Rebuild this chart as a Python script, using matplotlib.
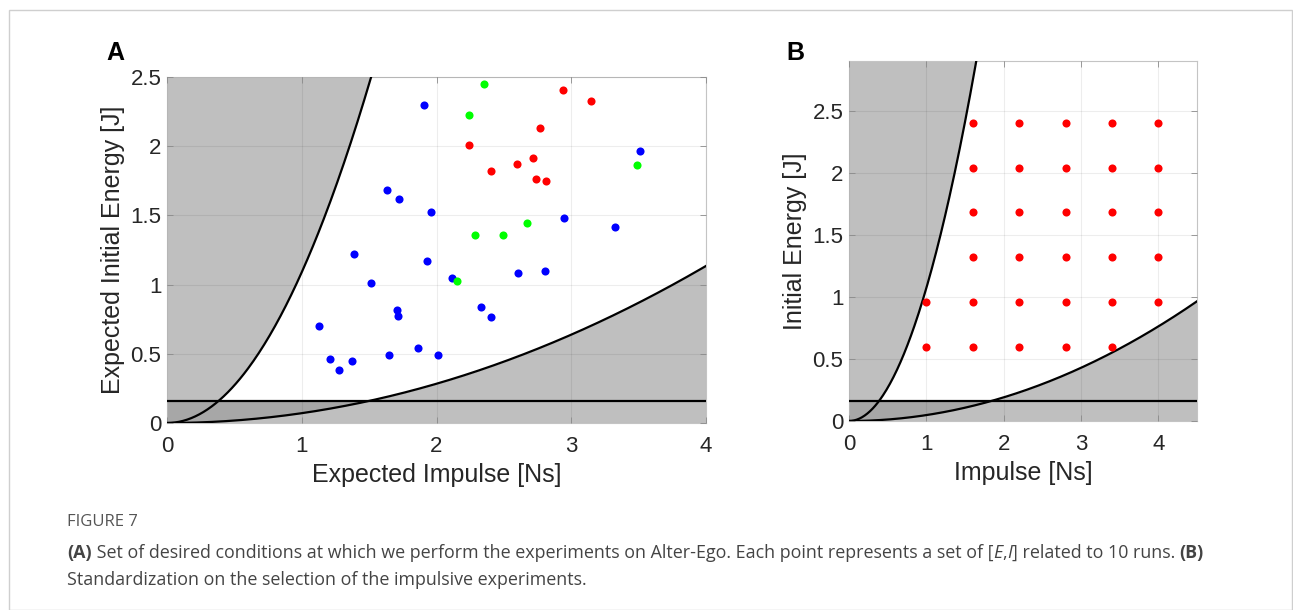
import numpy as np
import matplotlib
matplotlib.use("Agg")
import matplotlib.pyplot as plt
from matplotlib.patches import Rectangle

plt.rcParams['font.family'] = ['Liberation Sans', 'DejaVu Sans']

# panel A: expected conditions (impulse [Ns], energy [J])
blue_I = [1.909, 1.635, 1.724, 1.957, 1.390, 1.927, 1.511, 1.709, 1.717, 1.130, 1.863, 1.650,
          2.009, 1.207, 1.375, 1.274, 3.510, 2.944, 3.327, 2.115, 2.605, 2.808, 2.330, 2.404]
blue_E = [2.300, 1.681, 1.616, 1.522, 1.219, 1.170, 1.014, 0.816, 0.773, 0.699, 0.540, 0.494,
          0.494, 0.465, 0.450, 0.383, 1.968, 1.481, 1.414, 1.050, 1.084, 1.098, 0.836, 0.768]
green_I = [2.355, 2.244, 3.486, 2.669, 2.288, 2.496, 2.155]
green_E = [2.452, 2.228, 1.864, 1.445, 1.361, 1.361, 1.026]
red_I = [2.941, 3.147, 2.768, 2.244, 2.714, 2.595, 2.404, 2.738, 2.810]
red_E = [2.406, 2.327, 2.131, 2.006, 1.912, 1.871, 1.821, 1.761, 1.749]

# panel B: standardised impulse grid
grid_I = [1.0, 1.6, 2.2, 2.8, 3.4,
          1.0, 1.6, 2.2, 2.8, 3.4, 4.0,
          1.6, 2.2, 2.8, 3.4, 4.0,
          1.6, 2.2, 2.8, 3.4, 4.0,
          1.6, 2.2, 2.8, 3.4, 4.0,
          1.6, 2.2, 2.8, 3.4, 4.0]
grid_E = [0.6] * 5 + [0.96] * 6 + [1.32] * 5 + [1.68] * 5 + [2.04] * 5 + [2.4] * 5

# feasibility bounds E = I^2 / (2 m)
E_min = 0.16
m_A = (0.459, 7.05)
m_B = (0.467, 10.5)

LIGHT = '#bfbfbf'
DARK = '#a7a7a7'

fig = plt.figure(figsize=(12.93, 6.10), dpi=100)
W, H = 1293, 610


def frac(l, t, r, b):
    return [l / W, 1 - b / H, (r - l) / W, (b - t) / H]


def bounds_panel(ax, m, xmax, ymax):
    I = np.linspace(0, xmax, 400)
    up = I**2 / (2 * m[0])
    lo = I**2 / (2 * m[1])
    ax.fill_between(I, up, ymax + 1, color=LIGHT, lw=0, zorder=1)
    ax.axhspan(0, E_min, color=DARK, lw=0, zorder=1.1)
    ax.fill_between(I, 0, lo, color=LIGHT, lw=0, zorder=1.2)
    ax.plot(I, up, color='k', lw=1.6, zorder=3)
    ax.plot(I, lo, color='k', lw=1.6, zorder=3)
    ax.axhline(E_min, color='k', lw=1.6, zorder=3)
    ax.set_xlim(0, xmax)
    ax.set_ylim(0, ymax)
    ax.set_axisbelow(False)
    ax.grid(True, color='k', alpha=0.07, lw=0.8)
    for s in ax.spines.values():
        s.set_color('#c4c4c4')
        s.set_linewidth(0.8)
    ax.tick_params(direction='in', length=4, width=0.6, color='#8a8a8a',
                   labelsize=16, labelcolor='#262626', top=True, right=True)
    ax.tick_params(axis='x', pad=9)
    ax.tick_params(axis='y', pad=4)
    ax.set_xticks([0, 1, 2, 3, 4])
    ax.set_yticks([0, 0.5, 1, 1.5, 2, 2.5])
    ax.set_yticklabels(['0', '0.5', '1', '1.5', '2', '2.5'])


axA = fig.add_axes(frac(167, 77, 706, 423))
bounds_panel(axA, m_A, 4, 2.5)
axA.scatter(blue_I, blue_E, s=34, color='#0000ff', lw=0, zorder=4)
axA.scatter(green_I, green_E, s=34, color='#00ff00', lw=0, zorder=4)
axA.scatter(red_I, red_E, s=34, color='#ff0000', lw=0, zorder=4)
axA.set_xlabel('Expected Impulse [Ns]', fontsize=18, color='#262626', labelpad=5)
axA.set_ylabel('Expected Initial Energy [J]', fontsize=18, color='#262626', labelpad=4)

axB = fig.add_axes(frac(849, 61, 1197, 421))
bounds_panel(axB, m_B, 4.5, 2.9)
axB.scatter(grid_I, grid_E, s=34, color='#ff0000', lw=0, zorder=4)
axB.set_xlabel('Impulse [Ns]', fontsize=18, color='#262626', labelpad=5)
axB.set_ylabel('Initial Energy [J]', fontsize=18, color='#262626', labelpad=4)

fig.text(106 / W, 1 - 53 / H, 'A', fontsize=18, fontweight='bold', va='center')
fig.text(786 / W, 1 - 53 / H, 'B', fontsize=18, fontweight='bold', va='center')

# outer frame
fig.patches.append(Rectangle((8.5 / W, 0), (1292 - 8.5) / W, 1 - 10 / H, transform=fig.transFigure,
                             fill=False, ec='#cfcfcf', lw=1))

cap_font = ['Open Sans', 'DejaVu Sans']
fig.text(67 / W, 1 - 522 / H, 'FIGURE 7', fontsize=12, color='#555555', family=cap_font, va='center')

renderer = fig.canvas.get_renderer()


def rich_line(x_px, y_px, pieces):
    x = x_px
    for txt, weight, style in pieces:
        t = fig.text(x / W, 1 - y_px / H, txt, fontsize=12.9, color='#444444', family=cap_font,
                     fontweight=weight, fontstyle=style, va='center')
        x += t.get_window_extent(renderer).width


rich_line(67, 553, [('(A)', 'bold', 'normal'),
                    (' Set of desired conditions at which we perform the experiments on Alter-Ego. '
                     'Each point represents a set of [', 'normal', 'normal'),
                    ('E', 'normal', 'italic'), (',', 'normal', 'normal'),
                    ('I', 'normal', 'italic'), ('] related to 10 runs. ', 'normal', 'normal'),
                    ('(B)', 'bold', 'normal')])
rich_line(67, 580, [('Standardization on the selection of the impulsive experiments.', 'normal', 'normal')])

fig.savefig('out.png', dpi=100)
